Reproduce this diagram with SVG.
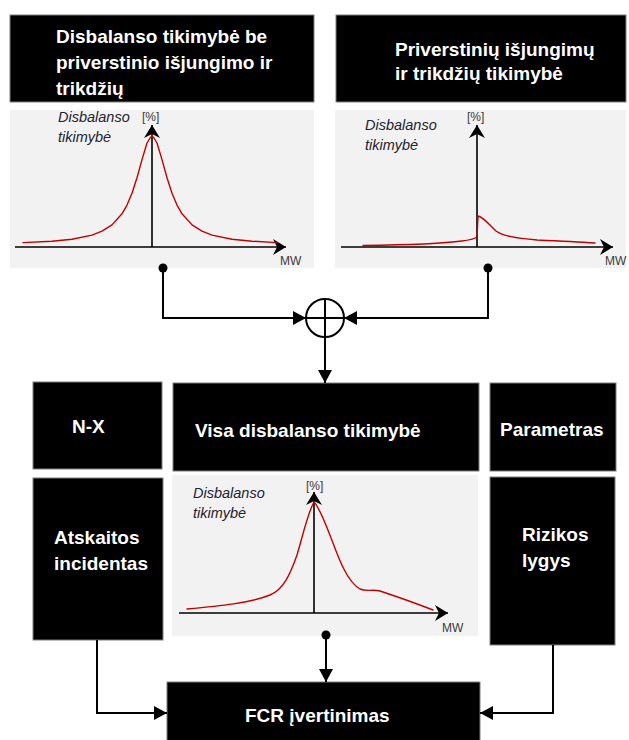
<svg xmlns="http://www.w3.org/2000/svg" width="629" height="740" viewBox="0 0 629 740">
<style>
.box{fill:#000;stroke:#7f7f7f;stroke-width:1}
.panel{fill:#f2f2f2}
.t{font-family:"Liberation Sans",Arial,sans-serif;font-weight:bold;font-size:19px;fill:#fff}
.lbl{font-family:"Liberation Sans",Arial,sans-serif;font-style:italic;font-size:14.5px;fill:#1f2233}
.unit{font-family:"Liberation Sans",Arial,sans-serif;font-size:12px;fill:#3a3a3a}
.axis{stroke:#000;stroke-width:1.6;fill:none}
.curve{stroke:#c00000;stroke-width:1.4;fill:none;stroke-linejoin:round;stroke-linecap:round}
.conn{stroke:#000;stroke-width:2;fill:none}
</style>
<defs>
<marker id="ax" markerUnits="userSpaceOnUse" markerWidth="14" markerHeight="16" refX="13" refY="8" orient="auto">
<path d="M0,0 L13,8 L0,16 L4,8 z" fill="#000"/>
</marker>
<marker id="ar" markerUnits="userSpaceOnUse" markerWidth="13" markerHeight="14" refX="13" refY="7" orient="auto">
<path d="M0,0 L13,7 L0,14 z" fill="#000"/>
</marker>
</defs>
<rect width="629" height="740" fill="#fff"/>

<g id="node-top-left">
<rect class="box" x="10" y="15" width="304" height="87"/>
<text class="t" x="56" y="43">Disbalanso tikimybė be</text>
<text class="t" x="56" y="69">priverstinio išjungimo ir</text>
<text class="t" x="56" y="95">trikdžių</text>
<rect class="panel" x="10" y="110" width="304" height="158"/>
<line class="axis" x1="15" y1="247" x2="286" y2="247" marker-end="url(#ax)"/>
<line class="axis" x1="152" y1="247" x2="152" y2="125" marker-end="url(#ax)"/>
<polyline class="curve" points="23,242.6 52,241.2 72,239.2 92,235.1 102,231.2 112,224.9 122,213.8 127,205.1 132,193.3 137,177.8 142,159.6 147,143 150,138 152,136 154,138 157,143 162,159.6 167,177.8 172,193.3 177,205.1 182,213.8 192,224.9 202,231.2 212,235.1 232,239.2 252,241.2 277,242.6"/>
<text class="lbl" x="58" y="122">Disbalanso</text>
<text class="lbl" x="58" y="142">tikimybė</text>
<text class="unit" x="142" y="121">[%]</text>
<text class="unit" x="280" y="265">MW</text>
</g>

<g id="node-top-right">
<rect class="box" x="336" y="15" width="290" height="87"/>
<text class="t" x="395" y="56">Priverstinių išjungimų</text>
<text class="t" x="395" y="80">ir trikdžių tikimybė</text>
<rect class="panel" x="335" y="110" width="291" height="158"/>
<line class="axis" x1="341" y1="247" x2="613" y2="247" marker-end="url(#ax)"/>
<line class="axis" x1="477" y1="247" x2="477" y2="125" marker-end="url(#ax)"/>
<path class="curve" d="M363,245.5 C400,245 440,244 462,241 C470,240 474,239 477,237 L478,216 C485,218 490,226 496,231 C503,236 515,238 537,240 C560,241 580,242 595,243"/>
<text class="lbl" x="365" y="130">Disbalanso</text>
<text class="lbl" x="365" y="150">tikimybė</text>
<text class="unit" x="467" y="121">[%]</text>
<text class="unit" x="605" y="265">MW</text>
</g>

<g id="node-sum">
<circle cx="325" cy="318" r="19" fill="#fff" stroke="#000" stroke-width="2"/>
<line x1="306" y1="318" x2="344" y2="318" stroke="#000" stroke-width="2"/>
<line x1="325" y1="299" x2="325" y2="337" stroke="#000" stroke-width="2"/>
</g>

<g id="node-nx">
<rect class="box" x="33" y="382" width="129" height="87"/>
<text class="t" x="72" y="433">N-X</text>
</g>

<g id="node-atskaitos">
<rect class="box" x="33" y="478" width="130" height="162"/>
<text class="t" x="54" y="544">Atskaitos</text>
<text class="t" x="54" y="570">incidentas</text>
</g>

<g id="node-visa">
<rect class="box" x="173" y="383" width="306" height="88"/>
<text class="t" x="195" y="437">Visa disbalanso tikimybė</text>
<rect class="panel" x="172" y="475" width="306" height="161"/>
<line class="axis" x1="179" y1="613" x2="448" y2="613" marker-end="url(#ax)"/>
<line class="axis" x1="314" y1="613" x2="314" y2="492" marker-end="url(#ax)"/>
<path class="curve" d="M187,609 C220,606 250,603 270,595 C283,590 290,575 297,555 C303,535 308,512 314,502 C320,508 326,525 333,543 C340,562 348,582 360,589 C366,592 372,589 380,591 C395,596 415,603 433,610"/>
<text class="lbl" x="193" y="498">Disbalanso</text>
<text class="lbl" x="193" y="518">tikimybė</text>
<text class="unit" x="306" y="490">[%]</text>
<text class="unit" x="442" y="632">MW</text>
</g>

<g id="node-parametras">
<rect class="box" x="490" y="383" width="126" height="88"/>
<text class="t" x="500" y="436">Parametras</text>
</g>

<g id="node-rizikos">
<rect class="box" x="490" y="477" width="125" height="168"/>
<text class="t" x="522" y="541">Rizikos</text>
<text class="t" x="522" y="567">lygys</text>
</g>

<g id="node-fcr">
<rect class="box" x="167" y="682" width="313" height="62"/>
<text class="t" x="245" y="722">FCR įvertinimas</text>
</g>

<g id="connectors">
<circle cx="163" cy="268" r="4.5" fill="#000"/>
<circle cx="488" cy="268" r="4.5" fill="#000"/>
<circle cx="326" cy="635" r="4.5" fill="#000"/>
<polyline class="conn" points="163,268 163,318 306,318" marker-end="url(#ar)"/>
<polyline class="conn" points="488,268 488,318 344,318" marker-end="url(#ar)"/>
<line class="conn" x1="325" y1="337" x2="325" y2="383" marker-end="url(#ar)"/>
<line class="conn" x1="326" y1="635" x2="326" y2="682" marker-end="url(#ar)"/>
<polyline class="conn" points="97,640 97,713 167,713" marker-end="url(#ar)"/>
<polyline class="conn" points="553,645 553,713 480,713" marker-end="url(#ar)"/>
</g>
</svg>
